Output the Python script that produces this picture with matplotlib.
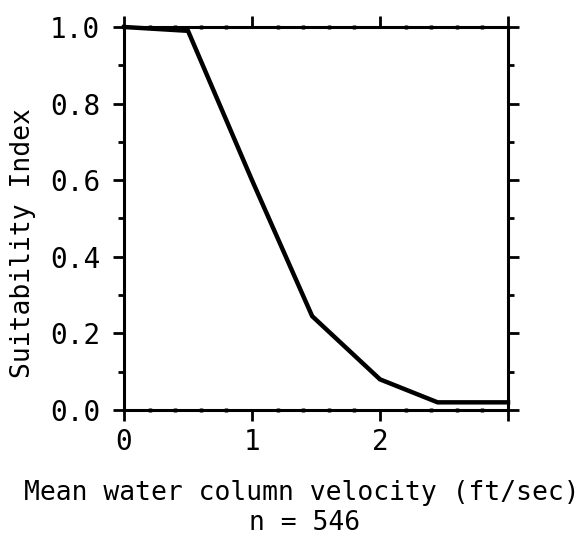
import matplotlib
matplotlib.use("Agg")
import matplotlib.pyplot as plt
from matplotlib.ticker import MultipleLocator

# Data
velocity = [0.0, 0.5, 1.0, 1.47, 2.0, 2.45, 3.0]
suitability = [1.0, 0.99, 0.60, 0.245, 0.08, 0.02, 0.02]
x_major = [0, 1, 2, 3]
x_labels = ["0", "1", "2", ""]
y_major = [0.0, 0.2, 0.4, 0.6, 0.8, 1.0]
y_labels = ["0.0", "0.2", "0.4", "0.6", "0.8", "1.0"]

plt.rcParams['font.family'] = ['DejaVu Sans Mono']

fig = plt.figure(figsize=(5.85, 5.35), dpi=100)
ax = fig.add_axes([124/585, 1 - 410/535, (508-124)/585, (410-27)/535])

ax.plot(velocity, suitability, color='black', lw=3.2, solid_joinstyle='miter', clip_on=False, zorder=3)

ax.set_xlim(0, 3)
ax.set_ylim(0, 1)
ax.set_xticks(x_major)
ax.set_xticklabels(x_labels)
ax.set_yticks(y_major)
ax.set_yticklabels(y_labels)
ax.xaxis.set_minor_locator(MultipleLocator(0.2))
ax.yaxis.set_minor_locator(MultipleLocator(0.1))

for s in ax.spines.values():
    s.set_linewidth(2.2)

ax.tick_params(axis='both', which='major', direction='out', length=8, width=2,
               labelsize=20, pad=5, top=True, right=True)
ax.tick_params(axis='x', which='minor', direction='inout', length=3, width=2.5,
               top=True, bottom=True)
ax.tick_params(axis='y', which='minor', direction='out', length=4, width=2,
               left=True, right=True)
ax.tick_params(axis='y', which='major', pad=9)

fig.text(23/585, 1 - 243/535, "Suitability Index", rotation=90,
         ha='center', va='center', fontsize=19)
fig.text(302/585, 1 - 500/535, "Mean water column velocity (ft/sec)",
         ha='center', va='baseline', fontsize=19)
fig.text(305/585, 1 - 530/535, "n = 546",
         ha='center', va='baseline', fontsize=19)

fig.savefig("out.png", dpi=100)
